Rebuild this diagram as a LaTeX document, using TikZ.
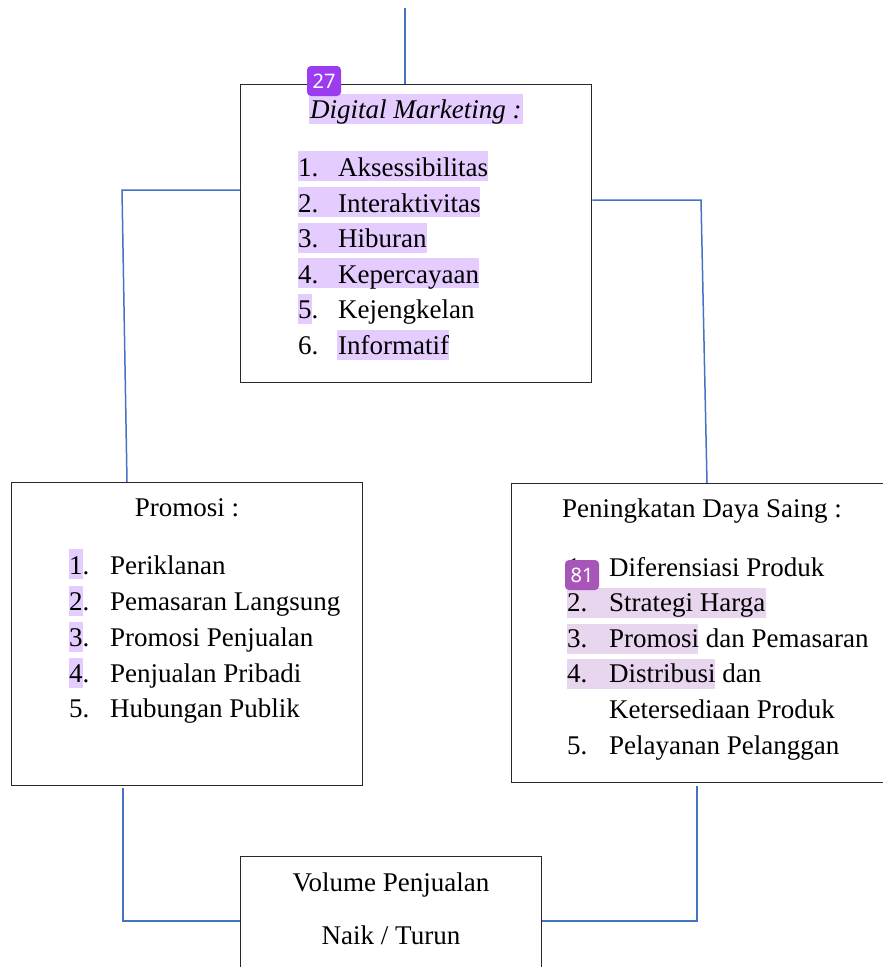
\documentclass[tikz,border=0pt]{standalone}
\usepackage{fontspec}
\setmainfont{Liberation Serif}
\newfontfamily\badgefont{Noto Sans}
\usetikzlibrary{backgrounds,calc}
\definecolor{connblue}{RGB}{68,114,196}
\definecolor{boxline}{RGB}{40,40,40}
\definecolor{hlA}{RGB}{229,204,255}
\definecolor{hlB}{RGB}{232,213,238}
\definecolor{badgeA}{RGB}{155,60,240}
\definecolor{badgeB}{RGB}{168,85,184}
\tikzset{
  boxnode/.style={draw=boxline, line width=1.3pt, anchor=north west, inner sep=0pt},
  conn/.style={draw=connblue, line width=1.5pt},
  txt/.style={anchor=base west, inner sep=0pt, font=\fontsize{27pt}{32pt}\selectfont},
  ctxt/.style={anchor=base, inner sep=0pt, font=\fontsize{27pt}{32pt}\selectfont},
  badge/.style={fill=#1, rounded corners=4pt, text=white, inner sep=0pt,
    minimum width=34pt, minimum height=30pt, font=\badgefont\fontsize{20pt}{22pt}\selectfont}
}
\begin{document}
\begin{tikzpicture}[x=1pt,y=-1pt]
\useasboundingbox (0,0) rectangle (883,967);

% boxes
\node[boxnode, minimum width=351pt, minimum height=298pt] (dm) at (240,84) {};
\node[boxnode, minimum width=351pt, minimum height=303pt] (promo) at (11,482) {};
\node[boxnode, minimum width=380pt, minimum height=299pt] (saing) at (511,483) {};
\node[boxnode, minimum width=301pt, minimum height=150pt] (vol) at (240,856) {};

% highlights
\begin{scope}[on background layer]
\fill[hlA] (309,94) rectangle (523,124);
\fill[hlA] (298,151) rectangle (488,181);
\fill[hlA] (298,187) rectangle (480,217);
\fill[hlA] (298,223) rectangle (427,253);
\fill[hlA] (298,258) rectangle (479,288);
\fill[hlA] (298,294) rectangle (312,324);
\fill[hlA] (337,330) rectangle (449,360);
\fill[hlA] (69,549) rectangle (83,579);
\fill[hlA] (69,586) rectangle (83,616);
\fill[hlA] (69,622) rectangle (83,652);
\fill[hlA] (69,658) rectangle (83,688);
\fill[hlB] (567,588) rectangle (766,618);
\fill[hlB] (567,624) rectangle (698,654);
\fill[hlB] (567,659) rectangle (715,689);
\end{scope}

% Digital Marketing box
\node[txt] (dmt) at (310,118) {\itshape Digital Marketing :};
\node[txt] (dn1) at (298,176) {1.}; \node[txt] (d1) at (338,176) {Aksessibilitas};
\node[txt] (dn2) at (298,212) {2.}; \node[txt] (d2) at (338,212) {Interaktivitas};
\node[txt] (dn3) at (298,247) {3.}; \node[txt] (d3) at (338,247) {Hiburan};
\node[txt] (dn4) at (298,283) {4.}; \node[txt] (d4) at (338,283) {Kepercayaan};
\node[txt] (dn5) at (298,318) {5.}; \node[txt] (d5) at (338,318) {Kejengkelan};
\node[txt] (dn6) at (298,354) {6.}; \node[txt] (d6) at (338,354) {Informatif};

% Promosi box
\node[ctxt] (pt) at (187,516) {Promosi :};
\node[txt] (pn1) at (69,574) {1.}; \node[txt] (p1) at (110,574) {Periklanan};
\node[txt] (pn2) at (69,610) {2.}; \node[txt] (p2) at (110,610) {Pemasaran Langsung};
\node[txt] (pn3) at (69,646) {3.}; \node[txt] (p3) at (110,646) {Promosi Penjualan};
\node[txt] (pn4) at (69,682) {4.}; \node[txt] (p4) at (110,682) {Penjualan Pribadi};
\node[txt] (pn5) at (69,717) {5.}; \node[txt] (p5) at (110,717) {Hubungan Publik};

% Peningkatan Daya Saing box
\node[ctxt] (st) at (702,517) {Peningkatan Daya Saing :};
\node[txt] (sn1) at (567,576) {1.}; \node[txt] (s1) at (609,576) {Diferensiasi Produk};
\node[txt] (sn2) at (567,611) {2.}; \node[txt] (s2) at (609,611) {Strategi Harga};
\node[txt] (sn3) at (567,647) {3.}; \node[txt] (s3) at (609,647) {Promosi dan Pemasaran};
\node[txt] (sn4) at (567,682) {4.}; \node[txt] (s4) at (609,682) {Distribusi dan};
\node[txt] (s4b) at (609,718) {Ketersediaan Produk};
\node[txt] (sn5) at (567,754) {5.}; \node[txt] (s5) at (609,754) {Pelayanan Pelanggan};

% Volume box
\node[ctxt] (v1) at (391,891) {Volume Penjualan};
\node[ctxt] (v2) at (391,944) {Naik / Turun};

% badges
\node[badge=badgeA] (b27) at (324,81) {27};
\node[badge=badgeB] (b81) at (582,575) {81};

% connectors
\coordinate (topend) at (405,8);
\coordinate (lb) at (122,190);
\coordinate (lx) at (127,0);
\coordinate (rb) at (701,200);
\coordinate (rx) at (707,0);
\coordinate (blb) at (123,921);
\coordinate (brb) at (697,921);
\draw[conn] (topend) -- (topend |- dm.north);
\draw[conn] (dm.west |- lb) -- (lb) -- (lx |- promo.north);
\draw[conn] (dm.east |- rb) -- (rb) -- (rx |- saing.north);
\draw[conn] ([yshift=-2pt]blb |- promo.south) -- (blb) -- (vol.west |- blb);
\draw[conn] ([yshift=-3pt]brb |- saing.south) -- (brb) -- (vol.east |- brb);
\end{tikzpicture}
\end{document}
